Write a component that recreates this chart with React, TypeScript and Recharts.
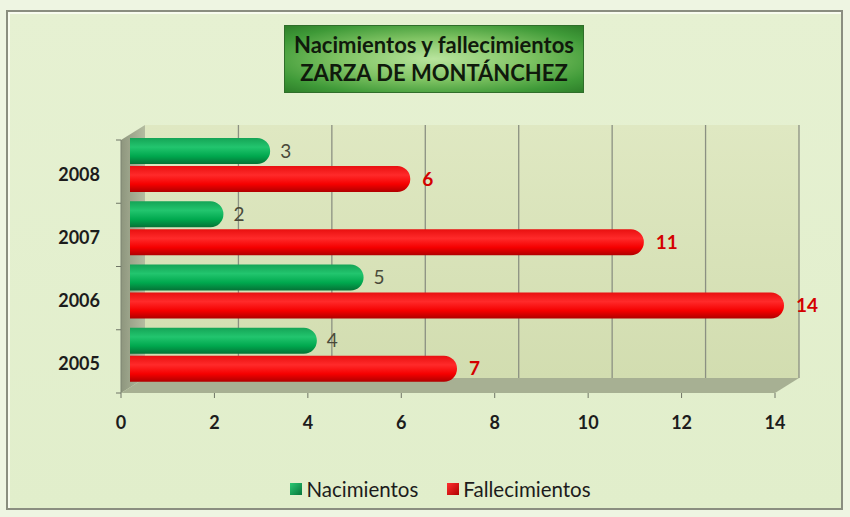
import { BarChart, Bar, XAxis, YAxis, LabelList, ReferenceArea } from "recharts";

const years = ["2005", "2006", "2007", "2008"];
const nacimientos = [4, 5, 2, 3];
const fallecimientos = [7, 14, 11, 6];
const xTicks = [0, 2, 4, 6, 8, 10, 12, 14];

const data = years.map((year, i) => ({
  year,
  nacimientos: nacimientos[i],
  fallecimientos: fallecimientos[i],
}));

const FONT = "Lato, 'Open Sans', sans-serif";
// 3D look: front plane and back wall offsets relative to the bar plane
const FRONT = { dx: -9, dy: 7 };
const BACK = { dx: 15, dy: -8 };

function Wall(props: any) {
  const { x, y, width: w, height: h } = props;
  const bl = x + BACK.dx;
  const br = x + w + BACK.dx;
  const bt = y + BACK.dy;
  const bb = y + h + BACK.dy;
  const fl = x + FRONT.dx;
  const fr = x + w + FRONT.dx;
  const ft = y + FRONT.dy;
  const fb = y + h + FRONT.dy;
  const grid = xTicks.slice(1).map((_, i) => bl + ((i + 1) * (br - bl)) / 7);
  const yTicks = [0, 1, 2, 3, 4].map((k) => ft + (k * h) / 4);
  return (
    <g>
      <defs>
        <linearGradient id="wallG" x1="0" y1="0" x2="0" y2="1">
          <stop offset="0%" stopColor="#dfe8c2" />
          <stop offset="100%" stopColor="#d2ddb0" />
        </linearGradient>
        <linearGradient id="sideG" x1="0" y1="0" x2="1" y2="0">
          <stop offset="0%" stopColor="#8e967e" />
          <stop offset="100%" stopColor="#b4bca0" />
        </linearGradient>
      </defs>
      <rect x={bl} y={bt} width={br - bl} height={bb - bt} fill="url(#wallG)" />
      <polygon points={`${fl},${ft} ${bl},${bt} ${bl},${bb} ${fl},${fb}`} fill="url(#sideG)" />
      <polygon points={`${fl},${fb} ${fr},${fb} ${br},${bb} ${bl},${bb}`} fill="#a7b093" />
      {grid.map((gx, i) => (
        <line key={i} x1={gx} x2={gx} y1={bt} y2={bb} stroke="#8b9082" strokeWidth={1.3} />
      ))}
      <line x1={fl} x2={fl} y1={ft} y2={fb} stroke="#7d8372" strokeWidth={1} />
      {yTicks.map((ty, i) => (
        <line key={i} x1={fl - 5} x2={fl} y1={ty} y2={ty} stroke="#6f7566" strokeWidth={1} />
      ))}
      {[0, 1, 2, 3, 4, 5, 6, 7].map((i) => (
        <line key={i} x1={fl + (i * w) / 7} x2={fl + (i * w) / 7} y1={fb} y2={fb + 5} stroke="#6f7566" strokeWidth={1} />
      ))}
    </g>
  );
}

function YTick(props: any) {
  const { x, y, payload } = props;
  return (
    <text x={x} y={y + 9} textAnchor="end" dominantBaseline="central" fontFamily={FONT} fontWeight={700} fontSize={18} fill="#1c1c1c">
      {payload.value}
    </text>
  );
}

function XTick(props: any) {
  const { x, y, payload } = props;
  return (
    <text x={x + FRONT.dx} y={y} textAnchor="middle" dominantBaseline="central" fontFamily={FONT} fontWeight={700} fontSize={18} fill="#1c1c1c">
      {payload.value}
    </text>
  );
}

export default function App() {
  return (
    <div
      style={{
        position: "absolute",
        left: 0,
        top: 0,
        width: 850,
        height: 517,
        background: "#eef5e2",
      }}
    >
      <div
        style={{
          position: "absolute",
          left: 6,
          top: 10,
          width: 833,
          height: 496,
          border: "2px solid #8a8e80",
          background: "linear-gradient(180deg, #e6f1d2 0%, #e1eecb 100%)",
          boxShadow: "inset 2px 2px 0 #f8fcef",
        }}
      />
      <div style={{ position: "absolute", left: 0, top: 0 }}>
        <BarChart
          width={850}
          height={517}
          data={data}
          layout="vertical"
          margin={{ top: 133, right: 66, bottom: 101, left: 0 }}
          barSize={26}
          barGap={2}
        >
          <defs>
            <linearGradient id="gGreen" x1="0" y1="0" x2="0" y2="1">
              <stop offset="0%" stopColor="#15a456" />
              <stop offset="35%" stopColor="#22c56e" />
              <stop offset="70%" stopColor="#00a84e" />
              <stop offset="100%" stopColor="#057236" />
            </linearGradient>
            <linearGradient id="gRed" x1="0" y1="0" x2="0" y2="1">
              <stop offset="0%" stopColor="#e81010" />
              <stop offset="35%" stopColor="#ff2a2a" />
              <stop offset="70%" stopColor="#f50000" />
              <stop offset="100%" stopColor="#b00000" />
            </linearGradient>
          </defs>
          <ReferenceArea x1={0} x2={14} ifOverflow="visible" shape={<Wall />} />
          <XAxis
            type="number"
            domain={[0, 14]}
            ticks={xTicks}
            axisLine={false}
            tickLine={false}
            tickMargin={30}
            height={30}
            tick={<XTick />}
            interval={0}
          />
          <YAxis
            type="category"
            dataKey="year"
            reversed
            width={130}
            axisLine={false}
            tickLine={false}
            tickMargin={24}
            tick={<YTick />}
          />
          <Bar dataKey="nacimientos" name="Nacimientos" fill="url(#gGreen)" radius={[0, 13, 13, 0]} isAnimationActive={false}>
            <LabelList dataKey="nacimientos" position="right" offset={10} fill="#4a4a3a" fontSize={19} fontFamily={FONT} />
          </Bar>
          <Bar dataKey="fallecimientos" name="Fallecimientos" fill="url(#gRed)" radius={[0, 13, 13, 0]} isAnimationActive={false}>
            <LabelList dataKey="fallecimientos" position="right" offset={12} fill="#d40000" fontWeight={700} fontSize={19} fontFamily={FONT} />
          </Bar>
        </BarChart>
      </div>
      <div
        style={{
          position: "absolute",
          left: 284,
          top: 25,
          width: 300,
          height: 68,
          boxSizing: "border-box",
          border: "1px solid #2f6e2a",
          background: "radial-gradient(ellipse at center, #b9e49e 0%, #7fc363 45%, #3f9a38 80%, #2e7f2a 100%)",
          display: "flex",
          flexDirection: "column",
          alignItems: "center",
          justifyContent: "center",
          fontFamily: FONT,
          fontWeight: 700,
          fontSize: 22,
          lineHeight: "28px",
          color: "#101a0c",
          whiteSpace: "nowrap",
        }}
      >
        <div>Nacimientos y fallecimientos</div>
        <div>ZARZA DE MONTÁNCHEZ</div>
      </div>
      <div
        style={{
          position: "absolute",
          left: 0,
          top: 477,
          width: 850,
          display: "flex",
          justifyContent: "center",
          alignItems: "center",
          fontFamily: FONT,
          fontSize: 20.5,
          color: "#1c1c1c",
          paddingLeft: 31,
          boxSizing: "border-box",
        }}
      >
        <span style={{ display: "inline-block", width: 12, height: 12, background: "linear-gradient(135deg, #2cc874, #06753a)", marginRight: 4 }} />
        <span style={{ marginRight: 29 }}>Nacimientos</span>
        <span style={{ display: "inline-block", width: 12, height: 12, background: "linear-gradient(135deg, #ff3030, #b00000)", marginRight: 4 }} />
        <span>Fallecimientos</span>
      </div>
    </div>
  );
}
